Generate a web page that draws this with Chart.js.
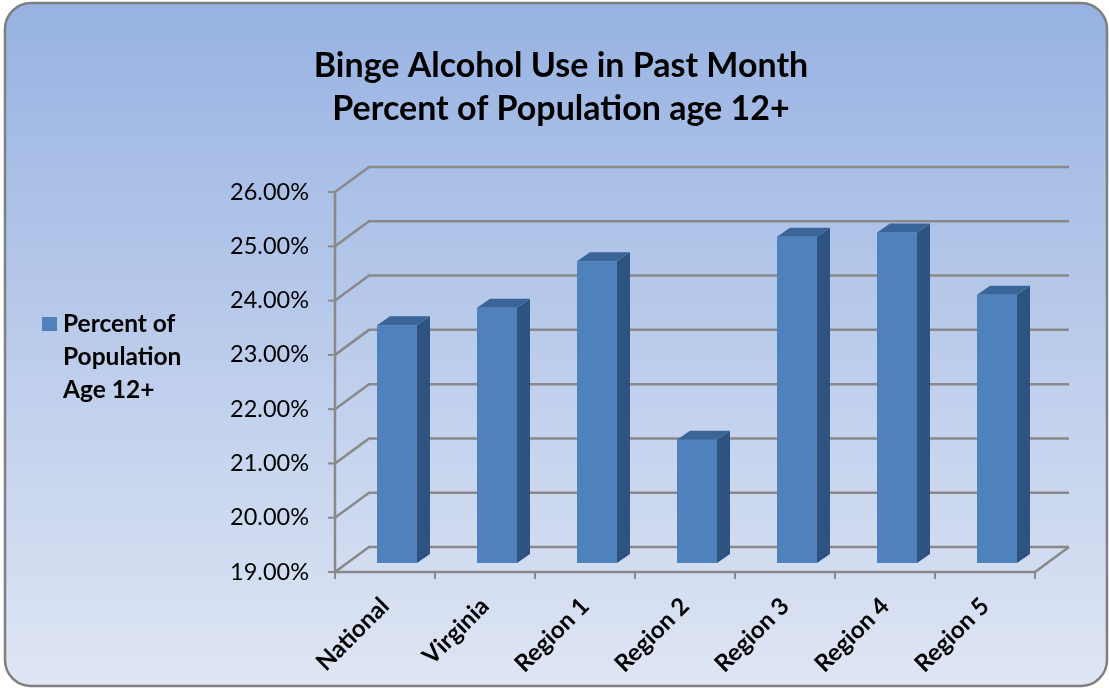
<!DOCTYPE html>
<html>
<head>
<meta charset="utf-8">
<title>Binge Alcohol Use in Past Month</title>
<script src="https://cdn.jsdelivr.net/npm/chart.js@4.4.1/dist/chart.umd.min.js"></script>
<style>
    html, body { margin: 0; padding: 0; background: #ffffff; }
    #wrap { width: 1109px; height: 688px; position: relative; }
</style>
</head>
<body>
<div id="wrap"><canvas id="bingeChart"></canvas></div>
<script>
// Valeurs du graphique
const categories = ['National', 'Virginia', 'Region 1', 'Region 2', 'Region 3', 'Region 4', 'Region 5'];
const bingePercent = [23.38, 23.70, 24.56, 21.27, 25.01, 25.09, 23.94];
const yTicks = [19, 20, 21, 22, 23, 24, 25, 26];
const seriesLabel = 'Percent of Population Age 12+';
const legendLines = ['Percent of', 'Population', 'Age 12+'];
const titleLines = ['Binge Alcohol Use in Past Month', 'Percent of Population age 12+'];

// profondeur du mur du fond / du sol (vue oblique)
const DEPTH_X = 34;
const DEPTH_Y = 25;
// décalage des barres dans la profondeur + épaisseur des barres
const BAR_DX = 12;
const BAR_DY = 9;
const SIDE_X = 13;
const SIDE_Y = 9;

const FONT = 'Lato, "Open Sans", sans-serif';
const GRID = '#898989';

const depthPlugin = {
    id: 'depth3d',
    beforeDraw(chart) {
        const { ctx, width, height } = chart;
        ctx.save();
        const g = ctx.createLinearGradient(0, 0, 0, height);
        g.addColorStop(0, '#97b2e2');
        g.addColorStop(1, '#dfe6f4');
        ctx.beginPath();
        ctx.roundRect(5, 3, width - 7, height - 5, 26);
        ctx.fillStyle = g;
        ctx.fill();
        ctx.lineWidth = 2.5;
        ctx.strokeStyle = '#7f7f7f';
        ctx.stroke();
        ctx.restore();
    },
    beforeDatasetsDraw(chart) {
        const { ctx, chartArea: a, scales: { y } } = chart;
        ctx.save();
        ctx.strokeStyle = GRID;
        ctx.lineWidth = 2.5;

        // mur du fond + diagonales
        yTicks.forEach(v => {
            const py = y.getPixelForValue(v);
            ctx.beginPath();
            ctx.moveTo(a.left, py);
            ctx.lineTo(a.left + DEPTH_X, py - DEPTH_Y);
            ctx.lineTo(a.right + DEPTH_X, py - DEPTH_Y);
            ctx.stroke();
        });
        // bord droit du sol
        ctx.beginPath();
        ctx.moveTo(a.right, a.bottom);
        ctx.lineTo(a.right + DEPTH_X, a.bottom - DEPTH_Y);
        ctx.stroke();

        // axes avant
        ctx.beginPath();
        ctx.moveTo(a.left, a.top);
        ctx.lineTo(a.left, a.bottom);
        ctx.lineTo(a.right, a.bottom);
        ctx.stroke();

        // graduations
        ctx.lineWidth = 2;
        yTicks.forEach(v => {
            const py = y.getPixelForValue(v);
            ctx.beginPath();
            ctx.moveTo(a.left - 7, py);
            ctx.lineTo(a.left, py);
            ctx.stroke();
        });
        const step = (a.right - a.left) / categories.length;
        for (let i = 0; i <= categories.length; i++) {
            const px = a.left + i * step;
            ctx.beginPath();
            ctx.moveTo(px, a.bottom);
            ctx.lineTo(px, a.bottom + 7);
            ctx.stroke();
        }
        ctx.restore();

        // les barres sont dessinées décalées dans la profondeur
        ctx.save();
        ctx.translate(BAR_DX, -BAR_DY);
    },
    afterDatasetsDraw(chart) {
        const { ctx } = chart;
        const meta = chart.getDatasetMeta(0);
        meta.data.forEach(bar => {
            const { x, y, base, width } = bar.getProps(['x', 'y', 'base', 'width'], true);
            const l = x - width / 2;
            const r = x + width / 2;
            // face latérale
            ctx.beginPath();
            ctx.moveTo(r, y);
            ctx.lineTo(r + SIDE_X, y - SIDE_Y);
            ctx.lineTo(r + SIDE_X, base - SIDE_Y);
            ctx.lineTo(r, base);
            ctx.closePath();
            ctx.fillStyle = '#2f5380';
            ctx.fill();
            // dessus
            ctx.beginPath();
            ctx.moveTo(l, y);
            ctx.lineTo(l + SIDE_X, y - SIDE_Y);
            ctx.lineTo(r + SIDE_X, y - SIDE_Y);
            ctx.lineTo(r, y);
            ctx.closePath();
            ctx.fillStyle = '#3a6598';
            ctx.fill();
        });
        ctx.restore();
    },
    afterDraw(chart) {
        const { ctx } = chart;
        const color = chart.data.datasets[0].backgroundColor;
        ctx.save();
        ctx.fillStyle = color;
        ctx.fillRect(42, 317, 15, 14);
        ctx.fillStyle = '#000000';
        ctx.font = 'bold 24.5px ' + FONT;
        ctx.textBaseline = 'middle';
        ctx.textAlign = 'left';
        legendLines.forEach((t, i) => ctx.fillText(t, 63, 324 + i * 33));
        ctx.restore();
    }
};

new Chart(document.getElementById('bingeChart'), {
    type: 'bar',
    data: {
        labels: categories,
        datasets: [{
            label: seriesLabel,
            data: bingePercent,
            base: yTicks[0],
            backgroundColor: '#4f81bd',
            borderWidth: 0,
            barPercentage: 0.4,
            categoryPercentage: 1,
            clip: false
        }]
    },
    options: {
        responsive: true,
        maintainAspectRatio: false,
        animation: false,
        layout: {
            padding: { left: 87, right: 74, top: 0, bottom: 0 }
        },
        plugins: {
            legend: { display: false },
            tooltip: { enabled: false },
            title: {
                display: true,
                text: titleLines,
                color: '#000000',
                font: { family: FONT, size: 34, weight: 'bold', lineHeight: 1.265 },
                padding: { top: 45, bottom: 61 }
            }
        },
        scales: {
            x: {
                grid: { display: false, drawTicks: false },
                border: { display: false },
                ticks: {
                    color: '#000000',
                    font: { family: FONT, size: 24, weight: 'bold' },
                    minRotation: 45,
                    maxRotation: 45,
                    padding: 20
                },
                afterFit: s => { s.height = 116; }
            },
            y: {
                min: 19,
                max: 26,
                grid: { display: false, drawTicks: false },
                border: { display: false },
                ticks: {
                    stepSize: 1,
                    color: '#000000',
                    padding: 26,
                    font: { family: FONT, size: 23.5 },
                    callback: v => v.toFixed(2) + '%'
                },
                afterFit: s => { s.width = 248; }
            }
        }
    },
    plugins: [depthPlugin]
});
</script>
</body>
</html>
